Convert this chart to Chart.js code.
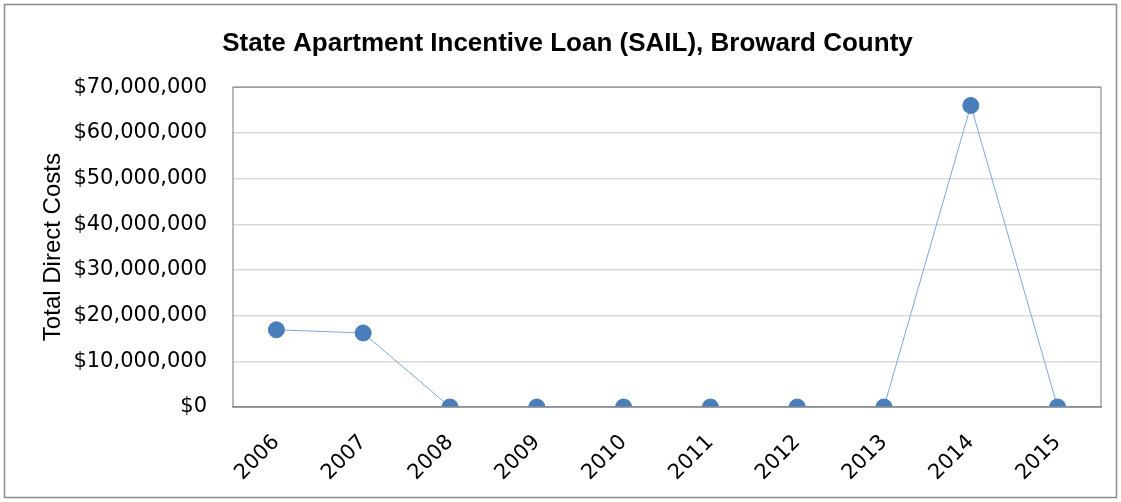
<!DOCTYPE html>
<html>
<head>
<meta charset="utf-8">
<script src="https://cdn.jsdelivr.net/npm/chart.js@4"></script>
<style>
  html, body { margin: 0; padding: 0; background: #fff; }
  #wrap { width: 1121px; height: 502px; }
</style>
</head>
<body>
<div id="wrap"><canvas id="canvas1" width="1121" height="502"></canvas></div>
<script>
// data
let years = ["2006", "2007", "2008", "2009", "2010", "2011", "2012", "2013", "2014", "2015"];
let directCosts = [16900000, 16200000, 0, 0, 0, 0, 0, 0, 66000000, 0];
let yTicks = [0, 10000000, 20000000, 30000000, 40000000, 50000000, 60000000, 70000000];

function money(v) {
	return "$" + Math.round(v).toLocaleString("en-US");
}

// outer frame + plot area border
let frame = {
	id: "frame",
	beforeDraw(chart) {
		let c = chart.ctx;
		c.save();
		c.fillStyle = "#fff";
		c.fillRect(0, 0, chart.width, chart.height);
		c.strokeStyle = "#8c8c8c";
		c.lineWidth = 1.5;
		c.strokeRect(4.5, 4.5, chart.width - 9, chart.height - 9);
		c.restore();
	},
	afterDatasetsDraw(chart) {
		let a = chart.chartArea;
		let c = chart.ctx;
		c.save();
		c.strokeStyle = "#8c8c8c";
		c.lineWidth = 1.2;
		c.strokeRect(a.left, a.top, a.right - a.left, a.bottom - a.top);
		c.restore();
	}
};

let padL = 34;

let ctx = document.getElementById("canvas1");
let myChart = new Chart(ctx, {
	type: "line",
	data: {
		labels: years,
		datasets: [{
			data: directCosts,
			borderColor: "#7ea6dc",
			borderWidth: 1,
			pointBackgroundColor: "#4a7ebb",
			pointBorderColor: "#4a7ebb",
			pointRadius: 8,
			pointHoverRadius: 8,
			tension: 0,
			fill: false,
			clip: 0
		}]
	},
	options: {
		responsive: false,
		animation: false,
		layout: { padding: { left: padL, right: 20, top: 4, bottom: 10 } },
		plugins: {
			legend: { display: false },
			tooltip: { enabled: false },
			title: {
				display: true,
				text: "State Apartment Incentive Loan (SAIL), Broward County",
				color: "#000",
				font: { family: "'Liberation Sans', Arial", size: 26, weight: "bold" },
				padding: { top: 24, bottom: 28 }
			}
		},
		scales: {
			x: {
				offset: true,
				grid: { display: false },
				border: { color: "#868686", width: 1.5 },
				ticks: {
					color: "#000",
					font: { family: "'DejaVu Sans'", size: 21 },
					minRotation: 45,
					maxRotation: 45,
					padding: 15
				},
				afterFit(scale) { scale.height = 502 - 407 - 10; }
			},
			y: {
				min: 0,
				max: 70000000,
				afterBuildTicks(scale) { scale.ticks = yTicks.map(v => ({ value: v })); },
				grid: { color: "#d9d9d9", lineWidth: 1.5, drawTicks: false },
				border: { display: false },
				ticks: {
					color: "#000",
					font: { family: "'DejaVu Sans'", size: 21 },
					padding: 26,
					callback: v => money(v)
				},
				title: {
					display: true,
					text: "Total Direct Costs",
					color: "#000",
					font: { family: "'Liberation Sans', Arial", size: 24 },
					padding: { top: 5, bottom: 0 }
				},
				afterFit(scale) { scale.width = 233 - padL; }
			}
		}
	},
	plugins: [frame]
});
</script>
</body>
</html>
